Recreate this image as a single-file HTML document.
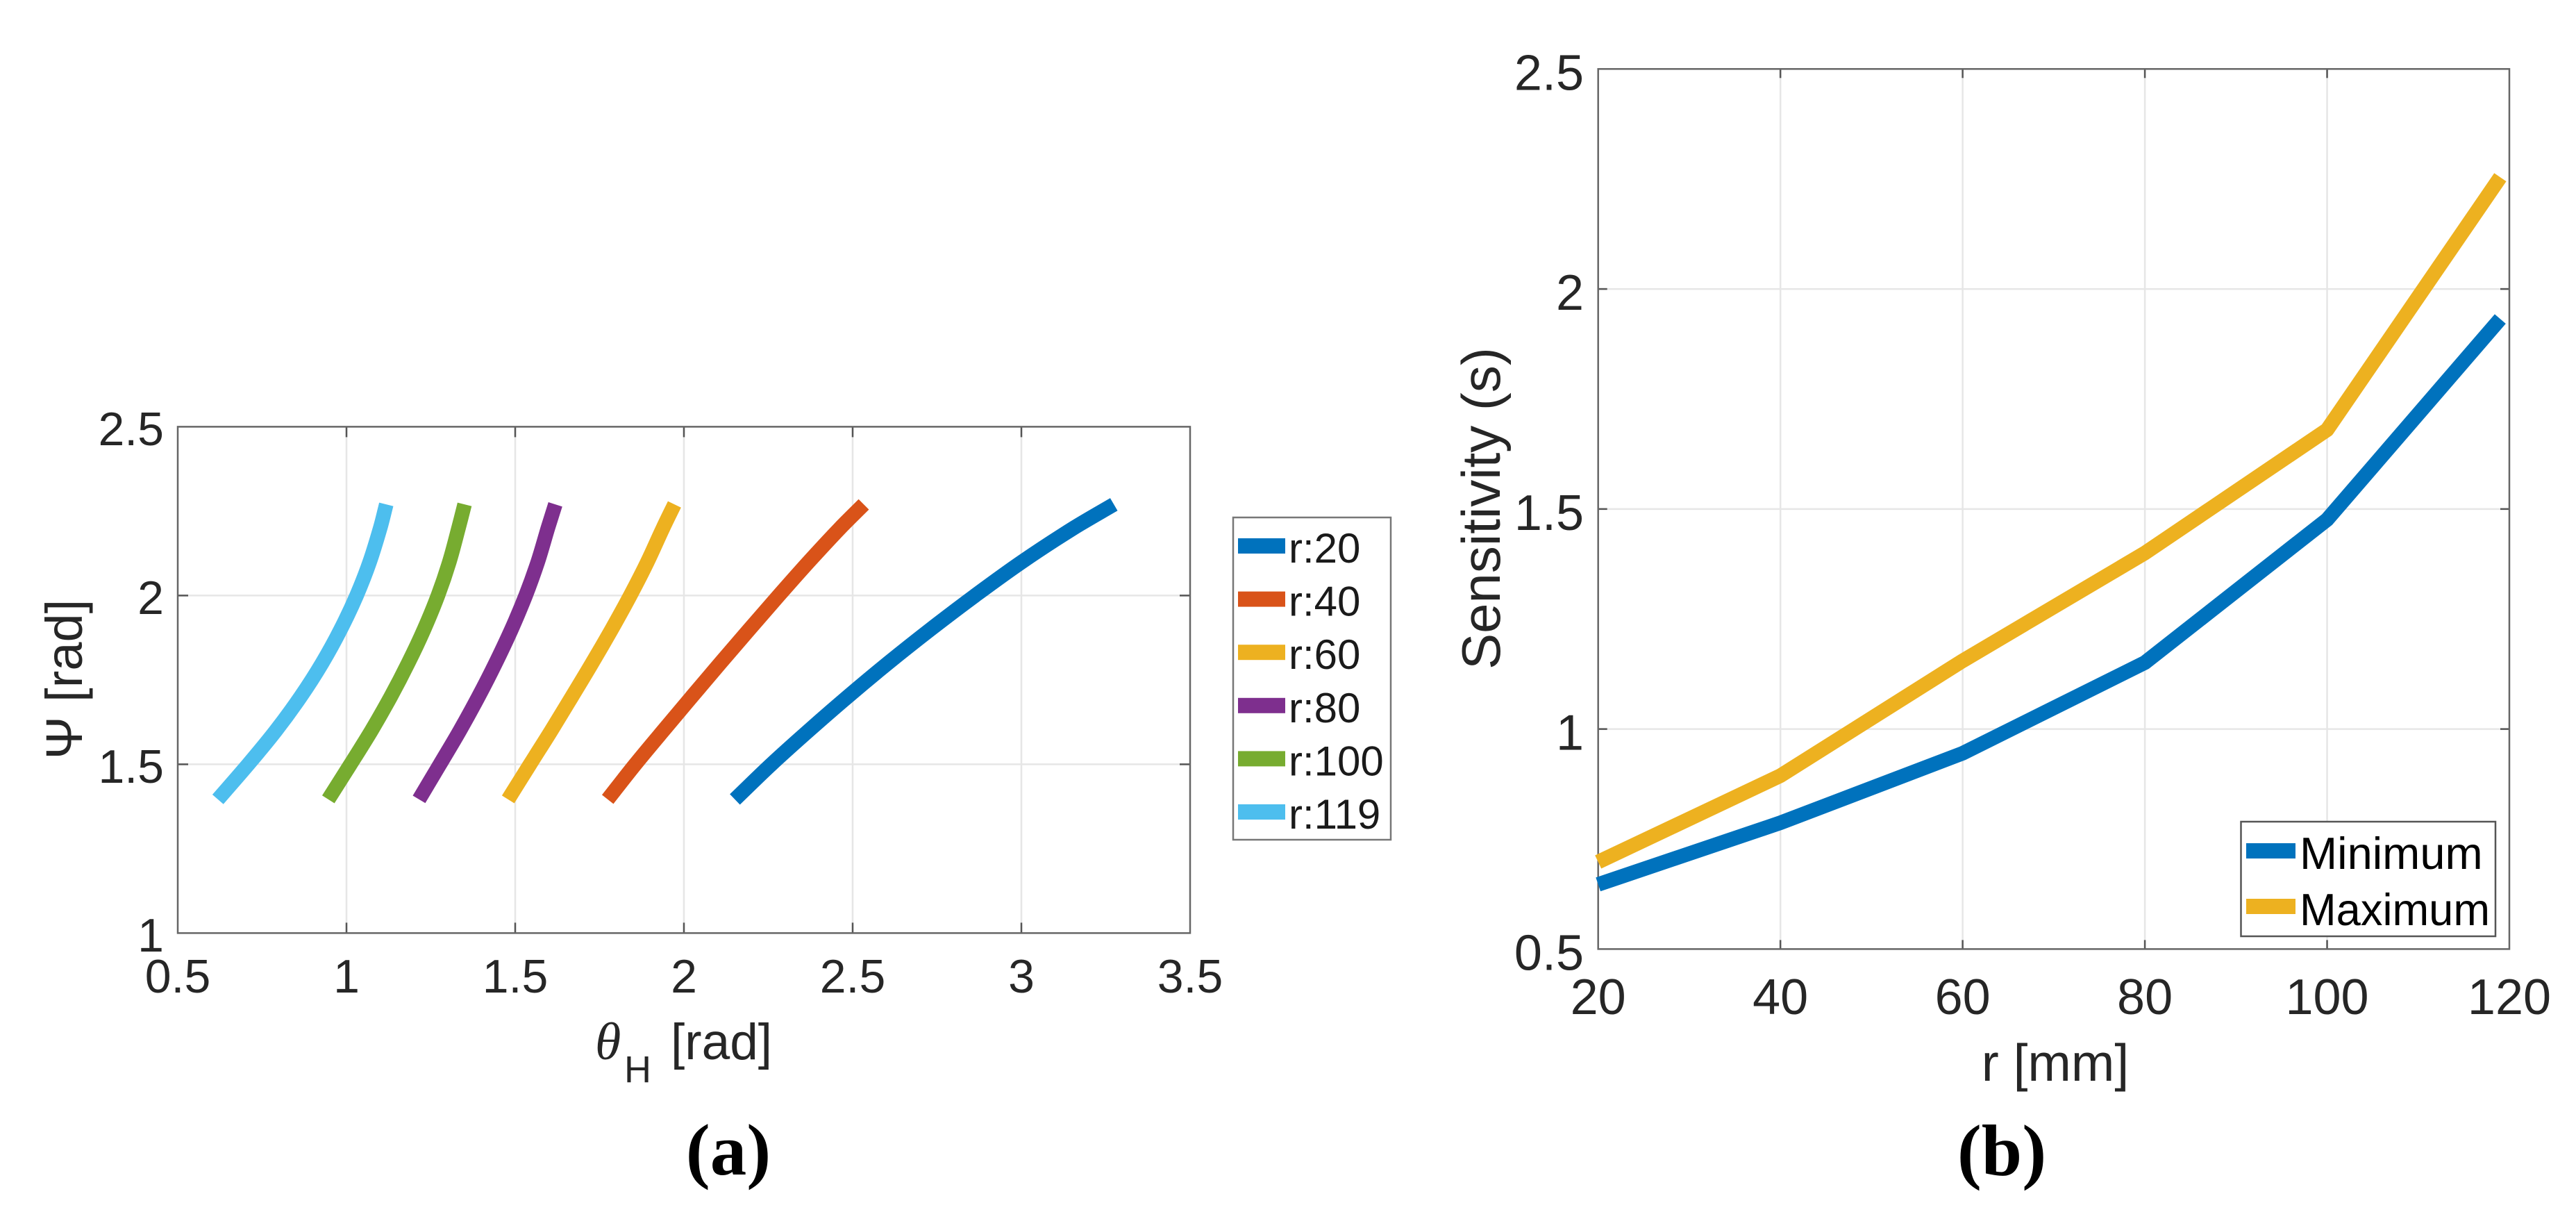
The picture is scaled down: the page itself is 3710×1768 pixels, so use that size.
<!DOCTYPE html>
<html lang="en">
<head>
<meta charset="utf-8">
<title>Workspace angles and sensitivity charts</title>
<style>
  html, body { margin: 0; padding: 0; background: #fff; }
  svg { display: block; }
  text { font-family: "Liberation Sans", sans-serif; fill: #262626; }
  .grid { stroke: #e6e6e6; stroke-width: 2.5; fill: none; }
  .frame { stroke: #666; stroke-width: 2.5; fill: none; }
  .tick { stroke: #555; stroke-width: 2.5; fill: none; }
  .series { fill: none; stroke-width: 21; stroke-linecap: butt; stroke-linejoin: round; }
  .c0 { stroke: #0072BD; }
  .c1 { stroke: #D95319; }
  .c2 { stroke: #EDB120; }
  .c3 { stroke: #7E2F8E; }
  .c4 { stroke: #77AC30; }
  .c5 { stroke: #4DBEEE; }
  .s0 { fill: #0072BD; }
  .s1 { fill: #D95319; }
  .s2 { fill: #EDB120; }
  .s3 { fill: #7E2F8E; }
  .s4 { fill: #77AC30; }
  .s5 { fill: #4DBEEE; }
  .lbl-a { font-size: 68px; }
  .lbl-b { font-size: 72px; }
  .leg-a { font-size: 60px; fill: #1a1a1a; }
  .leg-b { font-size: 65px; fill: #000; }
  .cap { font-family: "Liberation Serif", serif; font-weight: bold; font-size: 105px; fill: #000; }
</style>
</head>
<body>
<svg id="fig" xmlns="http://www.w3.org/2000/svg" width="3710" height="1768" viewBox="0 0 3710 1768">
  <rect x="0" y="0" width="3710" height="1768" fill="#fff"/>

  <!-- Panel A -->
  <g id="panelA">
    <g id="gridA"></g>
    <g id="ticksA"></g>
    <rect class="frame" x="256" y="614.4" width="1458" height="729"/>
    <g id="seriesA"></g>
    <text x="118" y="978" transform="rotate(-90 118 978)" style="font-size:74px" text-anchor="middle">Ψ [rad]</text>
    <g>
      <text x="857" y="1525" style="font-family:'Liberation Serif',serif;font-style:italic;font-size:76px">θ</text>
      <text x="899" y="1558" style="font-size:54px">H</text>
      <text x="966" y="1525" style="font-size:73px">[rad]</text>
    </g>
    <g>
      <rect x="1776" y="745" width="227" height="464" fill="#fff" stroke="#777" stroke-width="2.5"/>
      <g id="legendA"></g>
    </g>
    <text class="cap" x="1049" y="1691" text-anchor="middle">(a)</text>
  </g>

  <!-- Panel B -->
  <g id="panelB">
    <g id="gridB"></g>
    <g id="ticksB"></g>
    <rect class="frame" x="2301.7" y="99.3" width="1312.3" height="1267.1"/>
    <g id="seriesB"></g>
    <text x="2160" y="732" transform="rotate(-90 2160 732)" style="font-size:78px" text-anchor="middle">Sensitivity (s)</text>
    <text x="2960" y="1556" style="font-size:75px" text-anchor="middle">r [mm]</text>
    <g>
      <rect x="3227.5" y="1183" width="366.5" height="165" fill="#fff" stroke="#555" stroke-width="2.5"/>
      <rect class="s0" x="3235" y="1214" width="71" height="22"/>
      <text class="leg-b" x="3312" y="1251">Minimum</text>
      <rect class="s2" x="3235" y="1294" width="71" height="22"/>
      <text class="leg-b" x="3312" y="1332" textLength="274" lengthAdjust="spacingAndGlyphs">Maximum</text>
    </g>
    <text class="cap" x="2883" y="1692" text-anchor="middle">(b)</text>
  </g>
</svg>

<script>
// ---- Panel A data ----
const rLabels = ["r:20", "r:40", "r:60", "r:80", "r:100", "r:119"];
const psiValues = [1.396, 1.5, 1.6, 1.7, 1.8, 1.9, 2.0, 2.1, 2.2, 2.27];
const thetaR20 = [2.151, 2.259, 2.370, 2.485, 2.605, 2.731, 2.863, 3.002, 3.155, 3.274];
const thetaR40 = [1.774, 1.856, 1.939, 2.023, 2.108, 2.194, 2.281, 2.370, 2.463, 2.533];
const thetaR60 = [1.479, 1.544, 1.607, 1.668, 1.728, 1.786, 1.841, 1.892, 1.938, 1.972];
const thetaR80 = [1.215, 1.277, 1.336, 1.391, 1.442, 1.489, 1.531, 1.567, 1.597, 1.619];
const thetaR100 = [0.946, 1.012, 1.074, 1.131, 1.183, 1.230, 1.271, 1.305, 1.332, 1.350];
const thetaR119 = [0.619, 0.709, 0.791, 0.864, 0.928, 0.983, 1.030, 1.069, 1.100, 1.118];
const xTicksA = [0.5, 1, 1.5, 2, 2.5, 3, 3.5];
const xTickLabelsA = ["0.5", "1", "1.5", "2", "2.5", "3", "3.5"];
const yTicksA = [1, 1.5, 2, 2.5];
const yTickLabelsA = ["1", "1.5", "2", "2.5"];

// ---- Panel B data ----
const rValues = [20, 40, 60, 80, 100, 119];
const sensMinimum = [0.647, 0.787, 0.945, 1.151, 1.476, 1.932];
const sensMaximum = [0.698, 0.894, 1.155, 1.40, 1.68, 2.254];
const xTicksB = [20, 40, 60, 80, 100, 120];
const xTickLabelsB = ["20", "40", "60", "80", "100", "120"];
const yTicksB = [0.5, 1, 1.5, 2, 2.5];
const yTickLabelsB = ["0.5", "1", "1.5", "2", "2.5"];

const NS = "http://www.w3.org/2000/svg";
function make(parentId, tag, attrs) {
  const node = document.createElementNS(NS, tag);
  for (const k in attrs) node.setAttribute(k, attrs[k]);
  document.getElementById(parentId).appendChild(node);
  return node;
}
function linePath(xs, ys) {
  return xs.map((x, i) => (i ? "L" : "M") + x.toFixed(1) + " " + ys[i].toFixed(1)).join(" ");
}
// Cubic Hermite through the points, treating x as a function of y
function smoothPath(xs, ys) {
  const n = xs.length;
  const slope = i => {
    const a = Math.max(i - 1, 0), b = Math.min(i + 1, n - 1);
    return (xs[b] - xs[a]) / (ys[b] - ys[a]);
  };
  let d = "M" + xs[0].toFixed(1) + " " + ys[0].toFixed(1);
  for (let i = 0; i < n - 1; i++) {
    const h = ys[i + 1] - ys[i];
    const c1x = xs[i] + slope(i) * h / 3, c1y = ys[i] + h / 3;
    const c2x = xs[i + 1] - slope(i + 1) * h / 3, c2y = ys[i + 1] - h / 3;
    d += " C" + c1x.toFixed(1) + " " + c1y.toFixed(1) + " " + c2x.toFixed(1) + " " + c2y.toFixed(1) + " " + xs[i + 1].toFixed(1) + " " + ys[i + 1].toFixed(1);
  }
  return d;
}

// Axis functions
const axA = { l: 256, r: 1714, t: 614.4, b: 1343.4 };
const xA = v => axA.l + (v - 0.5) / 3 * (axA.r - axA.l);
const yA = v => axA.b - (v - 1) / 1.5 * (axA.b - axA.t);
const axB = { l: 2301.7, r: 3614, t: 99.3, b: 1366.4 };
const xB = v => axB.l + (v - 20) / 100 * (axB.r - axB.l);
const yB = v => axB.b - (v - 0.5) / 2 * (axB.b - axB.t);

// Panel A grid, ticks, labels
xTicksA.forEach((v, i) => {
  const x = xA(v);
  if (i > 0 && i < xTicksA.length - 1) {
    const g = make("gridA", "line", { class: "grid", x1: x, x2: x, y1: axA.t, y2: axA.b });
    
    
    const t1 = make("ticksA", "line", { class: "tick", x1: x, x2: x, y1: axA.b, y2: axA.b - 15 });
    
    
    const t2 = make("ticksA", "line", { class: "tick", x1: x, x2: x, y1: axA.t, y2: axA.t + 15 });
    
    
  }
  const lab = make("ticksA", "text", { class: "lbl-a", x: x, y: 1429, "text-anchor": "middle" });
  
  
  lab.textContent = xTickLabelsA[i];
});
yTicksA.forEach((v, i) => {
  const y = yA(v);
  if (i > 0 && i < yTicksA.length - 1) {
    const g = make("gridA", "line", { class: "grid", x1: axA.l, x2: axA.r, y1: y, y2: y });
    
    
    const t1 = make("ticksA", "line", { class: "tick", x1: axA.l, x2: axA.l + 15, y1: y, y2: y });
    
    
    const t2 = make("ticksA", "line", { class: "tick", x1: axA.r, x2: axA.r - 15, y1: y, y2: y });
    
    
  }
  const lab = make("ticksA", "text", { class: "lbl-a", x: 236, y: y + 26.5, "text-anchor": "end" });
  
  
  lab.textContent = yTickLabelsA[i];
});

// Panel A series and legend
const thetaSeries = [thetaR20, thetaR40, thetaR60, thetaR80, thetaR100, thetaR119];
thetaSeries.forEach((vals, i) => {
  const p = make("seriesA", "path", {
    class: "series c" + i,
    d: smoothPath(vals.map(xA), psiValues.map(yA))
  });
  
  

  const rowY = 786 + i * 76.6;
  const sw = make("legendA", "rect", { class: "s" + i, x: 1783, y: rowY - 11, width: 68, height: 22 });
  
  
  const tx = make("legendA", "text", { class: "leg-a", x: 1856, y: rowY + 24 });
  
  
  tx.textContent = rLabels[i];
});

// Panel B grid, ticks, labels
xTicksB.forEach((v, i) => {
  const x = xB(v);
  if (i > 0 && i < xTicksB.length - 1) {
    const g = make("gridB", "line", { class: "grid", x1: x, x2: x, y1: axB.t, y2: axB.b });
    
    
    const t1 = make("ticksB", "line", { class: "tick", x1: x, x2: x, y1: axB.b, y2: axB.b - 13 });
    
    
    const t2 = make("ticksB", "line", { class: "tick", x1: x, x2: x, y1: axB.t, y2: axB.t + 13 });
    
    
  }
  const lab = make("ticksB", "text", { class: "lbl-b", x: x, y: 1460, "text-anchor": "middle" });
  
  
  lab.textContent = xTickLabelsB[i];
});
yTicksB.forEach((v, i) => {
  const y = yB(v);
  if (i > 0 && i < yTicksB.length - 1) {
    const g = make("gridB", "line", { class: "grid", x1: axB.l, x2: axB.r, y1: y, y2: y });
    
    
    const t1 = make("ticksB", "line", { class: "tick", x1: axB.l, x2: axB.l + 13, y1: y, y2: y });
    
    
    const t2 = make("ticksB", "line", { class: "tick", x1: axB.r, x2: axB.r - 13, y1: y, y2: y });
    
    
  }
  const lab = make("ticksB", "text", { class: "lbl-b", x: 2281, y: y + 30, "text-anchor": "end" });
  
  
  lab.textContent = yTickLabelsB[i];
});

// Panel B series
const minLine = make("seriesB", "path", { class: "series c0", d: linePath(rValues.map(xB), sensMinimum.map(yB)) });


const maxLine = make("seriesB", "path", { class: "series c2", d: linePath(rValues.map(xB), sensMaximum.map(yB)) });


</script>
</body>
</html>
